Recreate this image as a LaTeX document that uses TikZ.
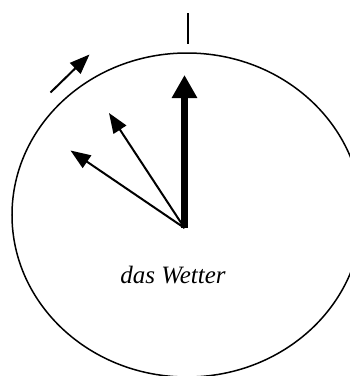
\documentclass[tikz,border=0pt]{standalone}
\usepackage{fontspec}
\setmainfont{Liberation Serif}
\usetikzlibrary{arrows.meta}

\begin{document}
\begin{tikzpicture}[x=1pt,y=-1pt,
  rim/.style={draw,line width=1.5pt},
  arr/.style={-{Triangle[length=20pt,width=15pt]},line width=2pt},
  bigarr/.style={-{Triangle[length=23pt,width=24pt]},line width=7pt},
  lbl/.style={font=\fontsize{25}{30}\selectfont\itshape,inner sep=0pt,anchor=base}]
\useasboundingbox (0,0) rectangle (350,376);
\clip (0,0) rectangle (350,376);
\draw[rim] (187,215) ellipse [x radius=175, y radius=162];
\coordinate (o) at (184.5,228);
\coordinate (top) at (184.5,75);
\coordinate (tipA) at (109,113);
\coordinate (tipB) at (70.5,150.5);
\coordinate (tickA) at (188,13);
\coordinate (tickB) at (188,44);
\coordinate (turnA) at (50.5,92.5);
\coordinate (turnB) at (89.5,54.5);
\node[lbl] (name) at (173,283) {das Wetter};
\draw[line width=2pt] (tickA) -- (tickB);
\draw[bigarr] (o) -- (top);
\draw[arr] (o) -- (tipA);
\draw[arr] (o) -- (tipB);
\draw[arr] (turnA) -- (turnB);
\end{tikzpicture}
\end{document}
